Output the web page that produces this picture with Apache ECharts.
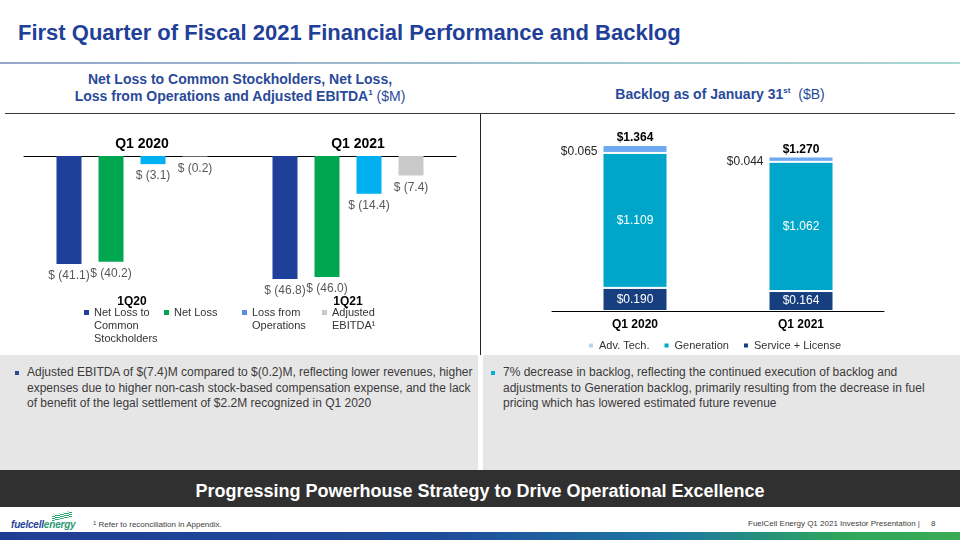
<!DOCTYPE html>
<html>
<head>
<meta charset="utf-8">
<script src="https://cdn.jsdelivr.net/npm/echarts@6/dist/echarts.min.js"></script>
<style>
  html, body { margin: 0; padding: 0; }
  body { width: 960px; height: 540px; position: relative; overflow: hidden; background: #fff;
         font-family: "Liberation Sans", Arial, sans-serif; }
  .abs { position: absolute; white-space: nowrap; }
  #title { left: 18px; top: 19.5px; font-size: 22px; font-weight: bold; color: #1f3f99; line-height: 26px; }
  #titleLine { left: 0; top: 62px; width: 960px; height: 2px;
               background: linear-gradient(90deg, #95a6cc, #a8d8d0); }
  .sub { font-size: 14px; font-weight: bold; color: #2a4a9a; text-align: center; line-height: 17px; }
  .sub span { font-weight: normal; }
  .sub sup { font-size: 8px; line-height: 0; }
  #subLine { left: 5px; top: 113px; width: 950px; height: 1px; background: #3a3a3a; }
  #vLine { left: 480px; top: 114px; width: 1px; height: 241px; background: #222; }
  .panel { top: 355px; height: 115px; background: #e7e6e6; }
  .bullet { width: 4px; height: 4px; top: 371px; }
  .btext { top: 365px; font-size: 12px; line-height: 15.6px; color: #3a3a3a; }
  #banner { left: 0; top: 470px; width: 960px; height: 37px; background: #303030; }
  #bannerText { left: 0; top: 479.5px; width: 960px; text-align: center; color: #fff; font-weight: bold;
                font-size: 18px; line-height: 22px; }
  #bottomBar { left: 0; top: 532px; width: 960px; height: 8px;
               background: linear-gradient(90deg, #1f3e93 0%, #1f4a9a 45%, #1d78a2 70%, #2fa65a 88%, #3aab55 100%); }
  .foot { top: 518px; font-size: 8px; line-height: 11px; color: #404040; }
  #logo { left: 11px; top: 518px; font-size: 10px; font-weight: bold; font-style: italic; line-height: 13px; letter-spacing: -0.2px; }
  #swoosh { left: 52px; top: 513px; width: 20px; height: 6px;
            background: repeating-linear-gradient(0deg, #2aa36e 0 1px, transparent 1px 2px); transform: skewY(-12deg); }
  #chart { left: 0; top: 0; width: 960px; height: 540px; }
</style>
</head>
<body>
<div id="title" class="abs">First Quarter of Fiscal 2021 Financial Performance and Backlog</div>
<div id="titleLine" class="abs"></div>

<div class="abs sub" style="left:0; width:480px; top:71px;">Net Loss to Common Stockholders, Net Loss,<br>Loss from Operations and Adjusted EBITDA<sup>1</sup> <span>($M)</span></div>
<div class="abs sub" style="left:480px; width:480px; top:86px;">Backlog as of January 31<sup>st</sup> &nbsp;<span>($B)</span></div>
<div id="subLine" class="abs"></div>
<div id="vLine" class="abs"></div>

<div class="abs panel" style="left:0; width:478px;"></div>
<div class="abs panel" style="left:483px; width:477px;"></div>
<div class="abs bullet" style="left:15px; background:#2a4a9a;"></div>
<div class="abs btext" style="left:27px;">Adjusted EBITDA of $(7.4)M compared to $(0.2)M, reflecting lower revenues, higher<br>expenses due to higher non-cash stock-based compensation expense, and the lack<br>of benefit of the legal settlement of $2.2M recognized in Q1 2020</div>
<div class="abs bullet" style="left:491px; background:#00b0d8;"></div>
<div class="abs btext" style="left:503px;">7% decrease in backlog, reflecting the continued execution of backlog and<br>adjustments to Generation backlog, primarily resulting from the decrease in fuel<br>pricing which has lowered estimated future revenue</div>

<div id="banner" class="abs"></div>
<div id="bannerText" class="abs">Progressing Powerhouse Strategy to Drive Operational Excellence</div>

<div id="logo" class="abs"><span style="color:#1f3f99">fuelcell</span><span style="color:#2a9a72">energy</span></div>
<div id="swoosh" class="abs"></div>
<div class="abs foot" style="left:93px;"><span style="font-size:6px; vertical-align:2px">1</span> Refer to reconciliation in Appendix.</div>
<div class="abs foot" style="left:748px;">FuelCell Energy Q1 2021 Investor Presentation |&nbsp;&nbsp;&nbsp;&nbsp; 8</div>
<div id="bottomBar" class="abs"></div>

<div id="chart" class="abs"></div>
<script>
// 左图：亏损（$M）
var lossCats = ['1Q20', '1Q21'];
var lossPeriods = ['Q1 2020', 'Q1 2021'];
var lossNames = ['Net Loss to Common Stockholders', 'Net Loss', 'Loss from Operations', 'Adjusted EBITDA¹'];
var lossLegendText = ['Net Loss to\nCommon\nStockholders', 'Net Loss', 'Loss from\nOperations', 'Adjusted\nEBITDA¹'];
var netLossCommon = [-41.1, -46.8];
var netLoss = [-40.2, -46.0];
var lossFromOps = [-3.1, -14.4];
var adjEbitda = [-0.2, -7.4];

// 右图：Backlog（$B）
var backlogCats = ['Q1 2020', 'Q1 2021'];
var serviceLicense = [0.190, 0.164];
var generation = [1.109, 1.062];
var advTech = [0.065, 0.044];
var backlogTotal = [1.364, 1.270];

var lossColors = ['#1e3f9a', '#00a650', '#00b0f0', '#c9c9c9'];
var lossLegendColors = ['#1e3f9a', '#00a650', '#5b8de8', '#c9c9c9'];
var lossLegendLeft = [84, 164, 242, 322];

var chart = echarts.init(document.getElementById('chart'), null, { renderer: 'canvas' });

function lossLabel(p) {
  return '$ (' + Math.abs(p.value).toFixed(1) + ')';
}
function bLabel(p) {
  return '$' + p.value.toFixed(3);
}

var lossData = [netLossCommon, netLoss, lossFromOps, adjEbitda];
var series = lossData.map(function (d, i) {
  return {
    name: lossNames[i],
    type: 'bar',
    xAxisIndex: 0,
    yAxisIndex: 0,
    data: d,
    barWidth: 25,
    barGap: '68%',
    itemStyle: { color: lossColors[i] },
    label: { show: true, position: 'bottom', distance: 6, color: '#595959', fontSize: 12, formatter: lossLabel }
  };
});

// 每个图例单独放；前面补空行，让色块对齐第一行文字
var legends = lossNames.map(function (n, i) {
  var lines = lossLegendText[i].split('\n');
  var pad = [];
  for (var k = 1; k < lines.length; k++) pad.push('\u00a0');
  var txt = pad.concat(lines).join('\n');
  return {
    data: [{ name: n, itemStyle: { color: lossLegendColors[i] } }],
    left: lossLegendLeft[i],
    top: 310 + 9 - 13 * lines.length,
    padding: 0,
    icon: 'rect',
    itemWidth: 5,
    itemHeight: 5,
    selectedMode: false,
    formatter: function () { return txt; },
    textStyle: { fontSize: 11, lineHeight: 13, color: '#333' }
  };
});
legends.push({
  data: [
    { name: 'Adv. Tech.', itemStyle: { color: '#b8d6f2' } },
    { name: 'Generation', itemStyle: { color: '#00a6c9' } },
    { name: 'Service + License', itemStyle: { color: '#1a3f7f' } }
  ],
  left: 587,
  top: 340,
  padding: 0,
  icon: 'rect',
  itemWidth: 6,
  itemHeight: 6,
  itemGap: 13,
  selectedMode: false,
  textStyle: { fontSize: 11, color: '#333' }
});

series.push({
  name: 'Service + License', type: 'bar', stack: 'b', xAxisIndex: 2, yAxisIndex: 1,
  data: serviceLicense, barWidth: 65,
  itemStyle: { color: '#173f7f', borderColor: '#fff', borderWidth: 1 },
  label: { show: true, position: 'inside', color: '#fff', fontSize: 12, formatter: bLabel }
});
series.push({
  name: 'Generation', type: 'bar', stack: 'b', xAxisIndex: 2, yAxisIndex: 1,
  data: generation, barWidth: 65,
  itemStyle: { color: '#00a6c9', borderColor: '#fff', borderWidth: 1 },
  label: { show: true, position: 'inside', color: '#fff', fontSize: 12, formatter: bLabel }
});
series.push({
  name: 'Adv. Tech.', type: 'bar', stack: 'b', xAxisIndex: 2, yAxisIndex: 1,
  data: advTech, barWidth: 65,
  itemStyle: { color: '#6eaaf0', borderColor: '#fff', borderWidth: 1 },
  label: { show: true, position: 'left', distance: 5, offset: [0, 3], color: '#262626', fontSize: 12, formatter: bLabel }
});
// 总数标签
series.push({
  name: 'Total', type: 'bar', xAxisIndex: 2, yAxisIndex: 1,
  data: backlogTotal, barWidth: 65, barGap: '-100%', silent: true, z: 1,
  itemStyle: { color: 'rgba(0,0,0,0)' },
  label: { show: true, position: 'top', distance: 1, color: '#000', fontWeight: 'bold', fontSize: 12, formatter: bLabel }
});

var option = {
  animation: false,
  textStyle: { fontFamily: 'Liberation Sans, Arial, sans-serif' },
  legend: legends,
  grid: [
    { left: 24, width: 432, top: 156, height: 131.5 },
    { left: 552, width: 332, top: 128.5, height: 182.5 }
  ],
  xAxis: [
    {
      type: 'category', gridIndex: 0, data: lossCats, position: 'bottom',
      axisLine: { show: false }, axisTick: { show: false },
      axisLabel: { margin: 8, color: '#000', fontWeight: 'bold', fontSize: 12 }
    },
    {
      type: 'category', gridIndex: 0, data: lossPeriods, position: 'top',
      axisLine: { show: true, lineStyle: { color: '#000', width: 1 } }, axisTick: { show: false },
      axisLabel: { margin: 5, color: '#000', fontWeight: 'bold', fontSize: 14, padding: [0, 0, 0, 20] }
    },
    {
      type: 'category', gridIndex: 1, data: backlogCats,
      axisLine: { show: true, lineStyle: { color: '#000', width: 1 } }, axisTick: { show: false },
      axisLabel: { margin: 8, color: '#000', fontWeight: 'bold', fontSize: 12 }
    }
  ],
  yAxis: [
    { type: 'value', gridIndex: 0, min: -50, max: 0, show: false },
    { type: 'value', gridIndex: 1, min: 0, max: 1.5, show: false }
  ],
  series: series
};
chart.setOption(option);
</script>
</body>
</html>
